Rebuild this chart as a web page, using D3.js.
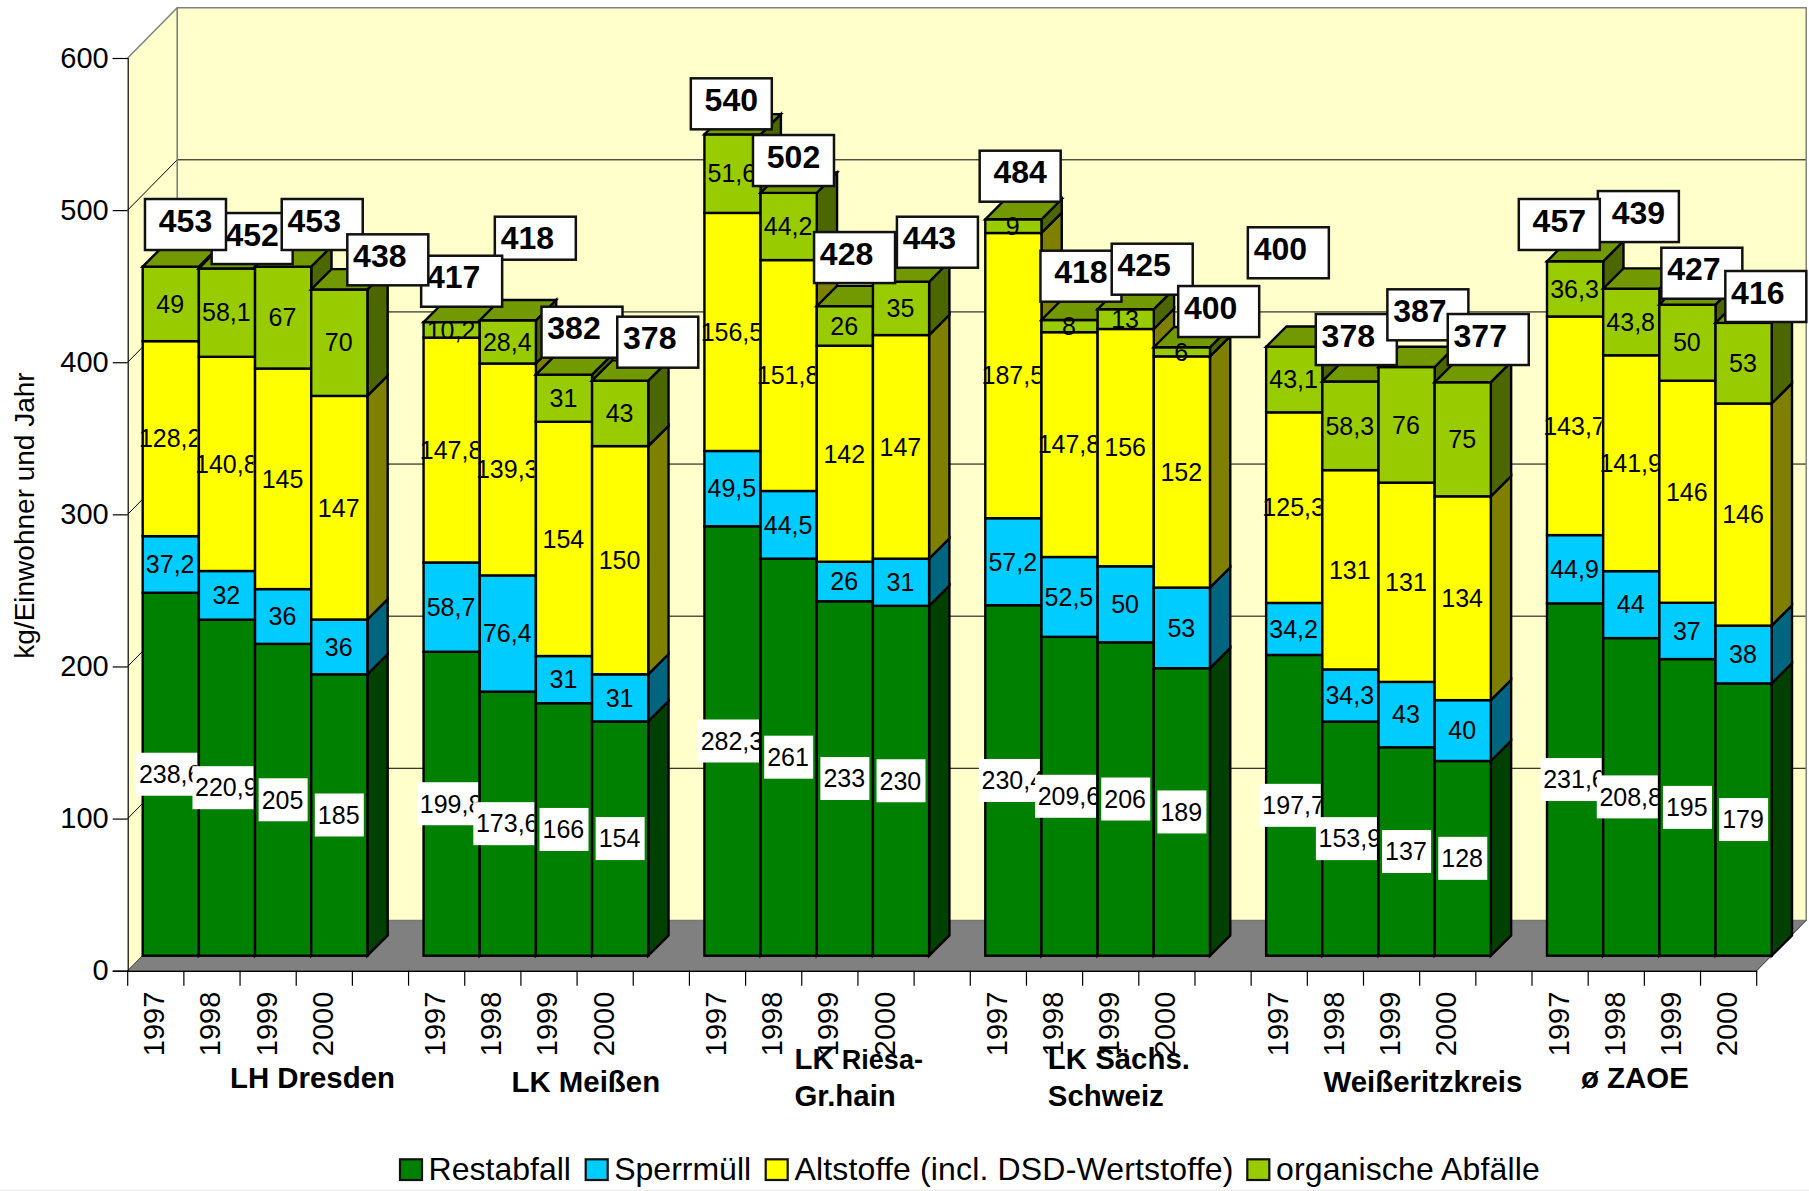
<!DOCTYPE html>
<html><head><meta charset="utf-8">
<style>html,body{margin:0;padding:0;background:#fff}svg{display:block}text{font-family:"Liberation Sans",Arial,sans-serif;fill:#000}</style>
<script src="https://cdn.jsdelivr.net/npm/d3@7/dist/d3.min.js"></script>
</head><body><svg id="c" width="1809" height="1191"></svg>
<script>
const years=["1997","1998","1999","2000"];
const groupCount=6;
const seriesNames=["Restabfall","Sperrmüll","Altstoffe (incl. DSD-Wertstoffe)","organische Abfälle"];
const restabfall=[238.6,220.9,205,185, 199.8,173.6,166,154, 282.3,261,233,230, 230.4,209.6,206,189, 197.7,153.9,137,128, 231.6,208.8,195,179];
const sperrmuell=[37.2,32,36,36, 58.7,76.4,31,31, 49.5,44.5,26,31, 57.2,52.5,50,53, 34.2,34.3,43,40, 44.9,44,37,38];
const altstoffe=[128.2,140.8,145,147, 147.8,139.3,154,150, 156.5,151.8,142,147, 187.5,147.8,156,152, 125.3,131,131,134, 143.7,141.9,146,146];
const organisch=[49,58.1,67,70, 10.2,28.4,31,43, 51.6,44.2,26,35, 9,8,13,6, 43.1,58.3,76,75, 36.3,43.8,50,53];
const totals=[453,452,453,438, 417,418,382,378, 540,502,428,443, 484,418,425,400, 400,378,387,377, 457,439,427,416];

// hand placement of the total call-outs, relative to the bar they belong to
const calloutDx=[14.7,25.2,39.1,48.5, 10,27.5,18,37.6, -1.2,4.8,9.7,36.4, 6.8,11.4,26.5,36.8, -5.9,5.9,21.3,25.5, -15.8,7.1,14.4,22.2];
const calloutDy=[-67.6,-55.4,-67.6,-55.1, -66.4,-103.6,-67.9,-64, -56.1,-57.8,-74.1,-65.1, -68.6,-69.3,-65.5,-61.2, -119.5,-67.4,-77.7,-68.2, -62.3,-97.6,-56.9,-51.9];
const calloutTextShift=[0,0,-8,-8, -8,-8,-8,-8, 0,0,-8,-8, 0,0,-8,-8, -8,-8,-8,-8, 0,0,-8,-8];
const calloutOrder=[1,0,2,5,4,3,6,7,8,9,10,11,12,13,14,15,16,17,18,19,21,20,22,23];

const frontColors=["#008000","#00CCFF","#FFFF00","#99CC00"];
const sideColors=["#004000","#006680","#808000","#4C6600"];
const topColor="#739900";
const keys=["restabfall","sperrmuell","altstoffe","organisch"];
const rows=restabfall.map((_,i)=>({restabfall:restabfall[i],sperrmuell:sperrmuell[i],altstoffe:altstoffe[i],organisch:organisch[i],total:totals[i]}));

const wallDepth=49.5, wallRise=50.3, barInset=15, barDepth=20.3;
const y=d3.scaleLinear().domain([0,600]).range([970.7,58]);
const slots=d3.range(29);
const x=d3.scaleBand().domain(slots).range([127.7,1756.7]).padding(0);
const slotOf=i=>Math.floor(i/4)*5+i%4;
const svg=d3.select("#c");
const poly=pts=>pts.map(p=>p.join(",")).join(" ");
const X0=x.range()[0],X1=x.range()[1],Y0=y(0),YT=y(600);

// walls
svg.append("polygon").attr("points",poly([[X0,Y0],[X0+wallDepth,Y0-wallRise],[X0+wallDepth,YT-wallRise],[X0,YT]])).attr("fill","#FFFFCC");
svg.append("rect").attr("x",X0+wallDepth).attr("y",YT-wallRise).attr("width",X1-X0).attr("height",Y0-YT).attr("fill","#FFFFCC");
svg.append("polygon").attr("points",poly([[X0,Y0],[X1,Y0],[X1+wallDepth,Y0-wallRise],[X0+wallDepth,Y0-wallRise]])).attr("fill","#808080");
// gridlines
const grid=svg.append("g").attr("fill","none").attr("stroke","#000").attr("stroke-width",1);
[100,200,300,400,500].forEach(v=>{
  grid.append("path").attr("d",`M${X0},${y(v)}L${X0+wallDepth},${y(v)-wallRise}L${X1+wallDepth},${y(v)-wallRise}`);
});
const edges=svg.append("g").attr("fill","none").attr("stroke","#808080").attr("stroke-width",1.5);
edges.append("path").attr("d",`M${X0},${YT}L${X0+wallDepth},${YT-wallRise}L${X1+wallDepth},${YT-wallRise}L${X1+wallDepth},${Y0-wallRise}`);
edges.append("path").attr("d",`M${X0+wallDepth},${YT-wallRise}V${Y0-wallRise}H${X1+wallDepth}`).attr("stroke","#777");
svg.append("path").attr("d",`M${X0},${Y0}L${X0+wallDepth},${Y0-wallRise}M${X1},${Y0}L${X1+wallDepth},${Y0-wallRise}`).attr("stroke","#333").attr("fill","none");

// axes
const yAxis=d3.axisLeft(y).tickValues([0,100,200,300,400,500,600]).tickSize(15).tickPadding(4);
const gy=svg.append("g").attr("transform",`translate(${X0},0)`).call(yAxis);
gy.selectAll("text").style("font-size","29px").attr("font-family",null).attr("dy","0.31em");
gy.selectAll("line,path").attr("stroke","#000").attr("stroke-width",1.2);
const yearAt=d=>d%5<4?years[d%5]:"";
const xAxis=d3.axisBottom(x).tickFormat(yearAt).tickSize(0).tickPadding(0);
const gx=svg.append("g").attr("transform",`translate(0,${Y0})`).call(xAxis);
gx.select(".domain").attr("stroke","#000").attr("stroke-width",1.5);
gx.selectAll("text").style("font-size","29px").attr("text-anchor","end").attr("dy",null)
  .attr("transform","translate(8.5,21) rotate(-90)").attr("dominant-baseline","auto").attr("y",0).attr("x",0);
svg.append("g").selectAll("line").data(d3.range(30)).join("line")
  .attr("x1",d=>X0+d*x.step()).attr("x2",d=>X0+d*x.step()).attr("y1",Y0).attr("y2",Y0+15)
  .attr("stroke","#000").attr("stroke-width",1.2);

// bars
const stack=d3.stack().keys(keys)(rows);
const bars=svg.append("g").attr("stroke","#000").attr("stroke-width",2.4).attr("stroke-linejoin","miter");
const frontX=i=>x(slotOf(i))+barInset;
rows.forEach((r,i)=>{
  const L=frontX(i),R=L+x.bandwidth();
  stack.forEach((s,k)=>{
    const yb=y(s[i][0])-barInset,yt=y(s[i][1])-barInset;
    bars.append("polygon").attr("points",poly([[R,yb],[R+barDepth,yb-barDepth],[R+barDepth,yt-barDepth],[R,yt]])).attr("fill",sideColors[k]);
    bars.append("rect").attr("x",L).attr("y",yt).attr("width",R-L).attr("height",yb-yt).attr("fill",frontColors[k]);
    if(k===stack.length-1){
      bars.append("polygon").attr("points",poly([[L,yt],[L+barDepth,yt-barDepth],[R+barDepth,yt-barDepth],[R,yt]])).attr("fill",topColor);
    }
  });
});

// segment labels
const defs=svg.append("defs");
const labels=svg.append("g");
const fmt=v=>String(v).replace(".",",");
let clipId=0;
stack.forEach((s,k)=>{
  rows.forEach((r,i)=>{
    const v=s[i][1]-s[i][0], cx=frontX(i)+x.bandwidth()/2, cy=(y(s[i][0])+y(s[i][1]))/2-barInset;
    const txt=fmt(+v.toFixed(1));
    const long=txt.length>=5;
    if(k===0){
      labels.append("rect").attr("x",long?cx-34.5:cx-24.5).attr("y",cy-21.5).attr("width",long?61:49).attr("height",43).attr("fill","#fff");
    }
    const t=labels.append("text").attr("x",cx-0.6).attr("y",cy+8.8).attr("text-anchor","middle").style("font-size","25px").text(txt);
    if(long){
      const id="cl"+(clipId++);
      defs.append("clipPath").attr("id",id).append("rect").attr("x",cx-34.5).attr("y",cy-25).attr("width",61).attr("height",50);
      t.attr("clip-path",`url(#${id})`);
    }
  });
});

// total callouts
const call=svg.append("g");
calloutOrder.forEach(i=>{
  const cx=frontX(i)+x.bandwidth()/2+calloutDx[i];
  const top=y(d3.sum(keys,k=>rows[i][k]))-barInset+calloutDy[i];
  const h=i===5?43:51;
  call.append("rect").attr("x",cx-40.5).attr("y",top).attr("width",81).attr("height",h)
    .attr("fill","#fff").attr("stroke","#111").attr("stroke-width",2.5);
  call.append("text").attr("x",cx+calloutTextShift[i]).attr("y",top+32.6).attr("text-anchor","middle")
    .style("font-size","32px").style("font-weight","700").text(totals[i]);
});

// axis title
svg.append("text").attr("transform","translate(34,515.5) rotate(-90)").attr("text-anchor","middle").style("font-size","28px").text("kg/Einwohner und Jahr");

// group captions
const groupCaptions=[
 {t:[{s:"LH Dresden"}],x:230,y:1088},
 {t:[{s:"LK Meißen"}],x:511.5,y:1092},
 {t:[{s:"LK "},{s:"Riesa-",small:true}],x:794.5,y:1068.5},
 {t:[{s:"Gr.hain"}],x:794.5,y:1106},
 {t:[{s:"LK Sächs."}],x:1047.8,y:1068.5},
 {t:[{s:"Schweiz"}],x:1047.8,y:1106},
 {t:[{s:"Weißeritzkreis"}],x:1323.5,y:1092},
 {t:[{s:"ø ZAOE"}],x:1581,y:1088}];
groupCaptions.forEach(c=>{
  const t=svg.append("text").attr("x",c.x).attr("y",c.y).style("font-size","29.4px").style("font-weight","700").attr("xml:space","preserve");
  c.t.forEach(p=>t.append("tspan").style("font-size",p.small?"27px":null).text(p.s));
});

// legend
const legendX=[400,585.7,765.7,1247.3], legendTextX=[428.6,614.2,794.5,1276];
const legendSpacing=[0,0,0.16,0.13];
seriesNames.forEach((n,k)=>{
  svg.append("rect").attr("x",legendX[k]).attr("y",1159.3).attr("width",22).attr("height",20.7).attr("fill",frontColors[k]).attr("stroke","#111").attr("stroke-width",2.2);
  svg.append("text").attr("x",legendTextX[k]).attr("y",1179.8).style("font-size","32px").style("letter-spacing",legendSpacing[k]+"px").text(n);
});
svg.append("rect").attr("x",0).attr("y",1189.6).attr("width",1809).attr("height",1.4).attr("fill","#eee");
</script></body></html>
